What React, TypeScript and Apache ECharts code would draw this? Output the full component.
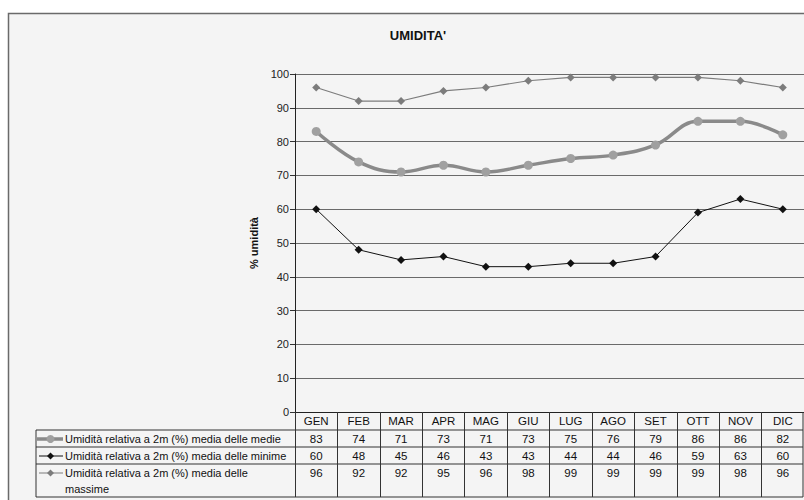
import React, { useEffect, useRef } from "react";
import * as echarts from "echarts";

const months = ["GEN", "FEB", "MAR", "APR", "MAG", "GIU", "LUG", "AGO", "SET", "OTT", "NOV", "DIC"];
const medie = [83, 74, 71, 73, 71, 73, 75, 76, 79, 86, 86, 82];
const minime = [60, 48, 45, 46, 43, 43, 44, 44, 46, 59, 63, 60];
const massime = [96, 92, 92, 95, 96, 98, 99, 99, 99, 99, 98, 96];
const rowLabels = [
  "Umidità relativa a 2m (%) media delle medie",
  "Umidità relativa a 2m (%) media delle minime",
  "Umidità relativa a 2m (%) media delle\nmassime",
];
const yTicks = { min: 0, max: 100, interval: 10 };

const FONT = "'Liberation Sans', Arial, sans-serif";

export default function App() {
  const ref = useRef<HTMLDivElement>(null);

  useEffect(() => {
    if (!ref.current) return;
    const chart = echarts.init(ref.current, undefined, { renderer: "svg" });

    // layout of the plot and of the data table underneath it
    const gridLeft = 295;
    const gridTop = 74;
    const gridBottom = 88;
    const axisY = 500 - gridBottom;
    const tableRight = 803;
    const legendLeft = 36;
    const rowLines = [430, 447, 464, 497];
    const rowCenters = [439, 456, 473];
    const rowOffsets = [18, 35, 52];
    const rows = [medie, minime, massime];

    const diamond = (cx: number, cy: number, r: number, fill: string) => ({
      type: "polygon",
      shape: { points: [[cx, cy - r], [cx + r, cy], [cx, cy + r], [cx - r, cy]] },
      style: { fill },
      z: 20,
    });

    const line = (x1: number, y1: number, x2: number, y2: number, stroke: string, lineWidth: number, z = 10) => ({
      type: "line",
      shape: { x1, y1, x2, y2 },
      style: { stroke, lineWidth },
      z,
    });

    const graphics: any[] = [
      {
        type: "rect",
        shape: { x: 8.5, y: 13.5, width: 830, height: 500 },
        style: { fill: "#f4f4f4", stroke: "#6a6a6a", lineWidth: 1.5 },
        z: -10,
      },
      ...rowLines.map((y) => line(legendLeft, y, tableRight, y, "#333", 1)),
      line(legendLeft, rowLines[0], legendLeft, rowLines[3], "#333", 1),
      line(tableRight, axisY, tableRight, rowLines[3], "#333", 1),
      // legend keys in the table
      line(37, rowCenters[0], 63, rowCenters[0], "#8a8a8a", 3.5, 15),
      {
        type: "circle",
        shape: { cx: 50.5, cy: rowCenters[0], r: 4 },
        style: { fill: "#a0a0a0" },
        z: 20,
      },
      line(39, rowCenters[1], 63, rowCenters[1], "#111", 1, 15),
      diamond(50.5, rowCenters[1], 3.5, "#111"),
      line(39, rowCenters[2], 63, rowCenters[2], "#7c7c7c", 1, 15),
      diamond(50.5, rowCenters[2], 3.5, "#7c7c7c"),
      ...rowLabels.map((t, i) => ({
        type: "text",
        x: 65,
        y: i < 2 ? rowCenters[i] : rowCenters[i] - 8,
        style: {
          text: t,
          fill: "#111",
          font: `11px ${FONT}`,
          textVerticalAlign: i < 2 ? "middle" : "top",
          lineHeight: 16,
        },
        z: 20,
      })),
    ];

    const valueAxes = rows.map((vals, i) => ({
      type: "category",
      data: months,
      position: "bottom",
      offset: rowOffsets[i],
      axisLine: { show: false },
      axisTick: { show: false },
      axisLabel: {
        interval: 0,
        margin: 3,
        fontSize: 11.5,
        fontFamily: FONT,
        color: "#111",
        formatter: (_v: string, idx: number) => String(vals[idx]),
      },
    }));

    chart.setOption({
      animation: false,
      backgroundColor: "#ffffff",
      title: {
        text: "UMIDITA'",
        left: 413,
        top: 24,
        textAlign: "center",
        textStyle: { fontFamily: FONT, fontSize: 13, fontWeight: "bold", color: "#111" },
      },
      grid: { left: gridLeft, top: gridTop, right: -5, bottom: gridBottom },
      xAxis: [
        {
          type: "category",
          data: months,
          boundaryGap: true,
          axisLine: { show: true, lineStyle: { color: "#222", width: 1 } },
          axisTick: { show: true, interval: 0, length: rowLines[3] - axisY, lineStyle: { color: "#333", width: 1 } },
          axisLabel: { interval: 0, margin: 3, fontSize: 11.5, fontFamily: FONT, color: "#111" },
          splitLine: { show: false },
        },
        ...valueAxes,
      ],
      yAxis: {
        type: "value",
        min: yTicks.min,
        max: yTicks.max,
        interval: yTicks.interval,
        name: "% umidità",
        nameLocation: "middle",
        nameGap: 31,
        nameTextStyle: { fontFamily: FONT, fontSize: 11, fontWeight: "bold", color: "#111" },
        axisLine: { show: true, lineStyle: { color: "#222", width: 1 } },
        axisTick: { show: true, length: 5, lineStyle: { color: "#333" } },
        axisLabel: { fontSize: 11, fontFamily: FONT, color: "#222", margin: 6 },
        splitLine: { show: true, lineStyle: { color: "#6a6a6a", width: 1 } },
      },
      series: [
        {
          name: rowLabels[2],
          type: "line",
          data: massime,
          symbol: "diamond",
          symbolSize: 8,
          lineStyle: { color: "#7c7c7c", width: 1.2 },
          itemStyle: { color: "#7c7c7c" },
          z: 3,
        },
        {
          name: rowLabels[0],
          type: "line",
          data: medie,
          smooth: 0.4,
          symbol: "circle",
          symbolSize: 9,
          lineStyle: { color: "#8a8a8a", width: 3.5 },
          itemStyle: { color: "#a0a0a0" },
          z: 4,
        },
        {
          name: rowLabels[1],
          type: "line",
          data: minime,
          symbol: "diamond",
          symbolSize: 8,
          lineStyle: { color: "#111", width: 1 },
          itemStyle: { color: "#111" },
          z: 5,
        },
      ],
      graphic: graphics,
    });

    return () => chart.dispose();
  }, []);

  return (
    <div
      ref={ref}
      style={{ position: "fixed", left: 0, top: 0, width: 804, height: 500 }}
    />
  );
}
